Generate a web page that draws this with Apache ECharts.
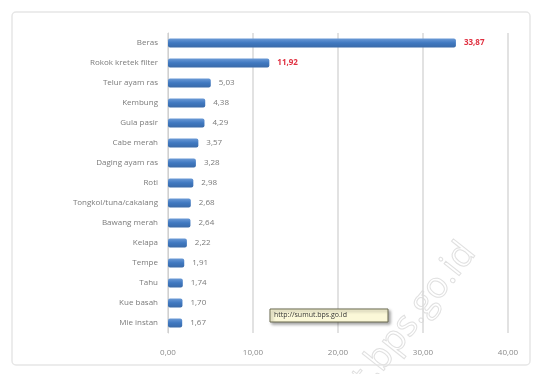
<!DOCTYPE html>
<html>
<head>
<meta charset="utf-8">
<script src="https://cdn.jsdelivr.net/npm/echarts@6/dist/echarts.min.js"></script>
<style>
html,body{margin:0;padding:0;background:#fff;}
#c{width:544px;height:374px;}
</style>
</head>
<body>
<div id="c"></div>
<script>
const categories = ["Beras","Rokok kretek filter","Telur ayam ras","Kembung","Gula pasir","Cabe merah","Daging ayam ras","Roti","Tongkol/tuna/cakalang","Bawang merah","Kelapa","Tempe","Tahu","Kue basah","Mie instan"];
const values = [33.87,11.92,5.03,4.38,4.29,3.57,3.28,2.98,2.68,2.64,2.22,1.91,1.74,1.70,1.67];
const highlighted = [0,1];
const xTicks = [0,10,20,30,40];

const fmt = v => v.toFixed(2).replace('.', ',');
const chart = echarts.init(document.getElementById('c'));
chart.setOption({
  backgroundColor:'#fff',
  animation:false,
  grid:{left:168,right:36,top:33,bottom:41},
  xAxis:{
    type:'value', min:xTicks[0], max:xTicks[xTicks.length-1], interval:10,
    axisLine:{show:false}, axisTick:{show:false},
    splitLine:{lineStyle:{color:'#d9d9d9',width:1.5}},
    axisLabel:{formatter:v=>fmt(v), color:'#8a8a8a', fontSize:8, fontFamily:'Open Sans', margin:16}
  },
  yAxis:{
    type:'category', data:categories, inverse:true,
    axisLine:{show:true,lineStyle:{color:'#d0d0d0'}}, axisTick:{show:false},
    axisLabel:{color:'#7a7a7a', fontSize:8, fontFamily:'Open Sans', margin:10}
  },
  series:[{
    type:'bar',
    data:values.map((v,i)=>({
      value:v,
      label:highlighted.includes(i)?{color:'#e03040',fontWeight:'bold'}:{}
    })),
    barWidth:9,
    itemStyle:{
      color:new echarts.graphic.LinearGradient(0,0,0,1,[{offset:0,color:'#6b9ad6'},{offset:0.5,color:'#3f78c0'},{offset:1,color:'#3a6aa8'}]),
      borderRadius:2
    },
    label:{show:true, position:'right', distance:8, formatter:p=>fmt(p.value), color:'#7a7a7a', fontSize:8, fontFamily:'Open Sans'}
  }],
  graphic:[
    {type:'rect', shape:{x:12,y:12,width:518,height:353,r:4}, style:{fill:'none',stroke:'#e6e6e6',lineWidth:1.5}, z:-1},
    {type:'text', x:287, y:447, rotation:0.9, style:{text:'sumut.bps.go.id', fill:'rgba(0,0,0,0)', stroke:'#e0e0e0', lineWidth:1, font:'36px "Open Sans"'}, z:-1},
    {type:'rect', shape:{x:270,y:309,width:118,height:13}, style:{fill:'#fbf8d8',stroke:'#6a6a50',lineWidth:1, shadowColor:'rgba(0,0,0,0.35)', shadowBlur:3, shadowOffsetX:2, shadowOffsetY:2}, z:10},
    {type:'text', x:274, y:311, style:{text:'http://sumut.bps.go.id', fill:'#333', font:'7px "Open Sans"'}, z:11}
  ]
});
</script>
</body>
</html>
